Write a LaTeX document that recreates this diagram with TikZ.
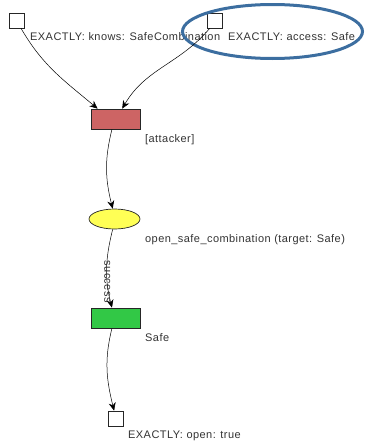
\documentclass[tikz,border=0pt]{standalone}
\usepackage{fontspec}
\setmainfont{Liberation Sans}
\newfontfamily\lblfont[LetterSpace=4]{Liberation Sans}
\usetikzlibrary{arrows.meta,shapes.geometric}
\definecolor{redbox}{RGB}{205,100,100}
\definecolor{greenbox}{RGB}{50,200,70}
\definecolor{yellowell}{RGB}{255,255,85}
\definecolor{hiblue}{RGB}{60,110,160}
\tikzset{
  sq/.style={draw=black!85, line width=0.7pt, fill=white, minimum size=15pt, inner sep=0pt},
  box/.style={draw=black!85, line width=0.7pt, minimum width=49pt, minimum height=20pt, inner sep=0pt},
  act/.style={ellipse, draw=black!85, line width=0.7pt, fill=yellowell, minimum width=51pt, minimum height=20pt, inner sep=0pt},
  lbl/.style={anchor=west, inner sep=0pt, text=black!80, font=\lblfont\fontsize{11}{13}\selectfont},
  conn/.style={draw=black, line width=0.5pt, -{Stealth[length=8pt,width=7pt]}}
}
\begin{document}
\begin{tikzpicture}[x=1pt,y=1pt]
\useasboundingbox (0,0) rectangle (366,-442);
\node[sq] (s1) at (16.5,-20.5) {};
\node[sq] (s2) at (215,-20.5) {};
\node[lbl] (l1) at (30,-37) {EXACTLY: knows: SafeCombination};
\node[lbl] (l2) at (228,-37) {EXACTLY: access: Safe};
\draw[hiblue, line width=3pt] (272.5,-31.5) ellipse [x radius=90, y radius=27];
\node[box, fill=redbox] (r) at (115.5,-119) {};
\node[lbl] (lr) at (145,-140) {[attacker]};
\node[act] (y) at (114.5,-219) {};
\node[lbl] (ly) at (145,-240) {open\_safe\_combination (target: Safe)};
\node[box, fill=greenbox] (g) at (115.5,-318) {};
\node[lbl] (lg) at (145,-338) {Safe};
\node[sq] (b) at (115.5,-418.5) {};
\node[lbl] (lb) at (128,-436) {EXACTLY: open: true};
\draw[conn] (s1.-60) to[out=-60,in=140] (r.150);
\draw[conn] (s2.-124) to[out=-130,in=60] (r.57);
\draw[conn] (r.-109) to[out=-104,in=104] (y.100);
\draw[conn] (y.-100) to[out=-104,in=104] node[pos=0.68, rotate=-90, anchor=center, inner sep=1pt, text=black!80, font=\lblfont\fontsize{11}{13}\selectfont] (ls) {success} (g.109);
\draw[conn] (g.-109) to[out=-104,in=104] (b.100);
\end{tikzpicture}
\end{document}
